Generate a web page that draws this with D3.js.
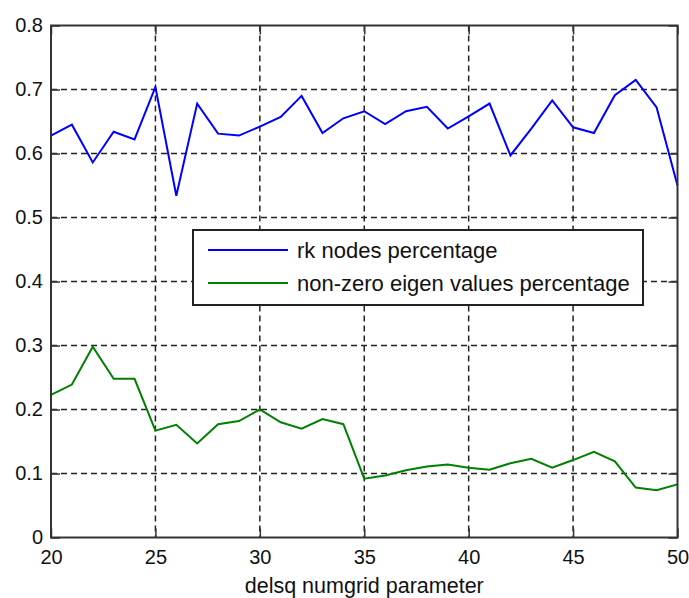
<!DOCTYPE html>
<html>
<head>
<meta charset="utf-8">
<script src="https://d3js.org/d3.v7.min.js"></script>
<style>
  body { margin: 0; background: #fff; }
  text { font-family: Arial, "Liberation Sans", sans-serif; fill: #111; }
</style>
</head>
<body>
<div id="chart"></div>
<script>
// donnees
var numgrid = [20,21,22,23,24,25,26,27,28,29,30,31,32,33,34,35,36,37,38,39,40,41,42,43,44,45,46,47,48,49,50];
var rkNodes = [0.628,0.645,0.586,0.634,0.622,0.704,0.534,0.678,0.631,0.628,0.642,0.657,0.690,0.632,0.655,0.666,
               0.646,0.666,0.673,0.639,0.658,0.678,0.597,0.639,0.683,0.641,0.632,0.691,0.715,0.672,0.550];
var nonZero = [0.223,0.239,0.298,0.248,0.248,0.167,0.176,0.147,0.177,0.182,0.200,0.180,0.170,0.185,0.177,0.092,
               0.097,0.105,0.111,0.114,0.109,0.106,0.116,0.123,0.109,0.121,0.134,0.119,0.078,0.074,0.083];
var xTicks = [20,25,30,35,40,45,50];
var yTicks = [0,0.1,0.2,0.3,0.4,0.5,0.6,0.7,0.8];
var seriesNames = ["rk nodes percentage", "non-zero eigen values percentage"];
var seriesColors = ["#0000ff", "#008000"];

var W = 689, H = 598;
var margin = {top: 25.5, right: 11.5, bottom: 60.5, left: 51},
    width = W - margin.left - margin.right,
    height = H - margin.top - margin.bottom;

var svg = d3.select("#chart")
  .append("svg")
    .attr("width", W)
    .attr("height", H)
  .append("g")
    .attr("transform", "translate(" + margin.left + "," + margin.top + ")");

var x = d3.scaleLinear().domain([20, 50]).range([0, width]);
var y = d3.scaleLinear().domain([0, 0.8]).range([height, 0]);

// grille pointillee
svg.append("g")
  .selectAll("line")
  .data(xTicks.slice(1, -1))
  .enter().append("line")
    .attr("x1", function(d){ return x(d) }).attr("x2", function(d){ return x(d) })
    .attr("y1", 0).attr("y2", height)
    .attr("stroke", "#222").attr("stroke-width", 1.5)
    .attr("stroke-dasharray", "6,4");
svg.append("g")
  .selectAll("line")
  .data(yTicks.slice(1, -1))
  .enter().append("line")
    .attr("y1", function(d){ return y(d) }).attr("y2", function(d){ return y(d) })
    .attr("x1", 0).attr("x2", width)
    .attr("stroke", "#222").attr("stroke-width", 1.5)
    .attr("stroke-dasharray", "6,4");

// axes avec graduations vers l'interieur
var tl = 9;
svg.append("g")
  .attr("transform", "translate(0," + height + ")")
  .call(d3.axisBottom(x).tickValues(xTicks).tickSize(-tl).tickPadding(12).tickFormat(d3.format("d")))
  .call(function(g){ g.select(".domain").remove() });
svg.append("g")
  .call(d3.axisTop(x).tickValues(xTicks).tickSize(-tl).tickFormat(""))
  .call(function(g){ g.select(".domain").remove() });
svg.append("g")
  .call(d3.axisLeft(y).tickValues(yTicks).tickSize(-tl).tickPadding(8).tickFormat(function(d){ return d === 0 ? "0" : d3.format(".1f")(d) }))
  .call(function(g){ g.select(".domain").remove() });
svg.append("g")
  .attr("transform", "translate(" + width + ",0)")
  .call(d3.axisRight(y).tickValues(yTicks).tickSize(-tl).tickFormat(""))
  .call(function(g){ g.select(".domain").remove() });

svg.selectAll(".tick line").attr("stroke", "#333").attr("stroke-width", 1.5);
svg.selectAll(".tick text").style("font-size", "20px").attr("fill", "#111");

// courbes
var lineGen = d3.line()
  .x(function(d, i){ return x(numgrid[i]) })
  .y(function(d){ return y(d) });
[rkNodes, nonZero].forEach(function(s, i){
  svg.append("path")
    .datum(s)
    .attr("d", lineGen)
    .attr("fill", "none")
    .attr("stroke", seriesColors[i])
    .attr("stroke-width", 2);
});

// cadre
svg.append("rect")
  .attr("width", width).attr("height", height)
  .attr("fill", "none").attr("stroke", "#333").attr("stroke-width", 2);

// titre axe x
svg.append("text")
  .attr("x", x(35)).attr("y", height + 55)
  .style("text-anchor", "middle")
  .style("font-size", "21.5px")
  .text("delsq numgrid parameter");

// legende
var lg = svg.append("g").attr("transform", "translate(" + (193 - margin.left) + "," + (230 - margin.top) + ")");
lg.append("rect")
  .attr("width", 450).attr("height", 75)
  .attr("fill", "#fff").attr("stroke", "#222").attr("stroke-width", 2);
seriesNames.forEach(function(n, i){
  var yy = 20 + i * 33;
  lg.append("line")
    .attr("x1", 15).attr("x2", 95).attr("y1", yy).attr("y2", yy)
    .attr("stroke", seriesColors[i]).attr("stroke-width", 2);
  lg.append("text")
    .attr("x", 104).attr("y", yy).attr("dy", "0.35em")
    .style("font-size", "22px")
    .text(n);
});
</script>
</body>
</html>
